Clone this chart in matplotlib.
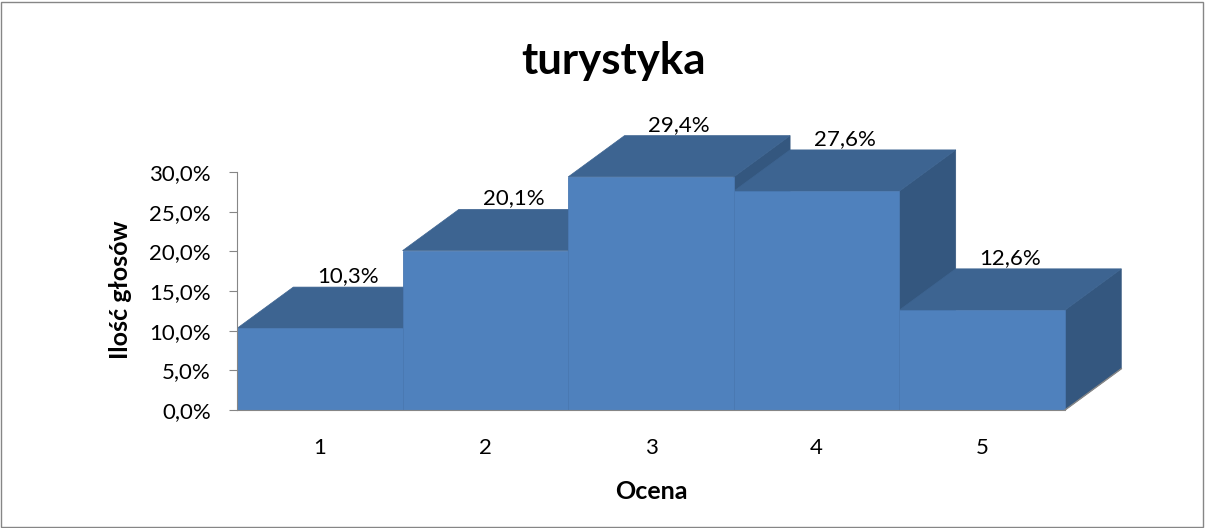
import matplotlib.pyplot as plt
from matplotlib.patches import Polygon, Rectangle

plt.rcParams['font.family'] = ['Lato', 'DejaVu Sans']

oceny = ['1', '2', '3', '4', '5']
procent = [10.3, 20.1, 29.4, 27.6, 12.6]
etykiety = ['10,3%', '20,1%', '29,4%', '27,6%', '12,6%']
yticks = [0, 5, 10, 15, 20, 25, 30]
ytick_labels = ['0,0%', '5,0%', '10,0%', '15,0%', '20,0%', '25,0%', '30,0%']

front_col = '#4f81bd'
top_col = '#3d6491'
side_col = '#34577f'
grey = '#868686'

# depth of the fake 3d in data units
dx, dz = 0.34, 5.2

fig = plt.figure(figsize=(12.05, 5.28), dpi=100)
fig.patches.append(Rectangle((0.001, 0.002), 0.997, 0.995, transform=fig.transFigure,
                             fill=False, edgecolor=grey, linewidth=1))
ax = fig.add_axes([0.1967, 0.2235, 0.7411, 0.5492])

xs = list(range(1, len(oceny) + 1))
for x, h in zip(xs, procent):
    x0, x1 = x - 0.5, x + 0.5
    ax.add_patch(Polygon([(x1, 0), (x1 + dx, dz), (x1 + dx, h + dz), (x1, h)],
                         facecolor=side_col, edgecolor=side_col, lw=0.5, zorder=1))
    ax.add_patch(Polygon([(x0, h), (x1, h), (x1 + dx, h + dz), (x0 + dx, h + dz)],
                         facecolor=top_col, edgecolor=top_col, lw=0.5, zorder=1))
ax.bar(xs, procent, width=1.0, color=front_col, edgecolor='#4a79b2', linewidth=0.6, zorder=2)

# floor edge under last bar
ax.plot([xs[-1] + 0.5, xs[-1] + 0.5 + dx], [0, dz], color=grey, lw=1, zorder=3)

for x, h, t in zip(xs, procent, etykiety):
    ax.text(x + dx / 2, h + dz + 0.1, t, ha='center', va='bottom', fontsize=16, zorder=5)

ax.set_xlim(0.5, 5.893)
ax.set_ylim(0, 36.57)
ax.set_xticks(xs)
ax.set_xticklabels(oceny, fontsize=16)
ax.set_yticks(yticks)
ax.set_yticklabels(ytick_labels, fontsize=16)
ax.tick_params(axis='x', length=0, pad=20)
ax.tick_params(axis='y', length=6, color=grey, pad=13)

for s in ['top', 'right']:
    ax.spines[s].set_visible(False)
ax.spines['left'].set_bounds(0, 30)
ax.spines['bottom'].set_bounds(0.5, 5.5)
ax.spines['left'].set_color(grey)
ax.spines['bottom'].set_color(grey)
ax.spines['bottom'].set_zorder(4)

ax.set_xlabel('Ocena', fontsize=18, fontweight='bold')
ax.xaxis.set_label_coords(0.4636, -0.241)
ax.set_ylabel('Ilość głosów', fontsize=18, fontweight='bold')
ax.yaxis.set_label_coords(-0.1176, 0.414)

fig.text(0.509, 0.885, 'turystyka', ha='center', va='center', fontsize=31.5, fontweight='bold')

fig.savefig('out.png', dpi=100)
